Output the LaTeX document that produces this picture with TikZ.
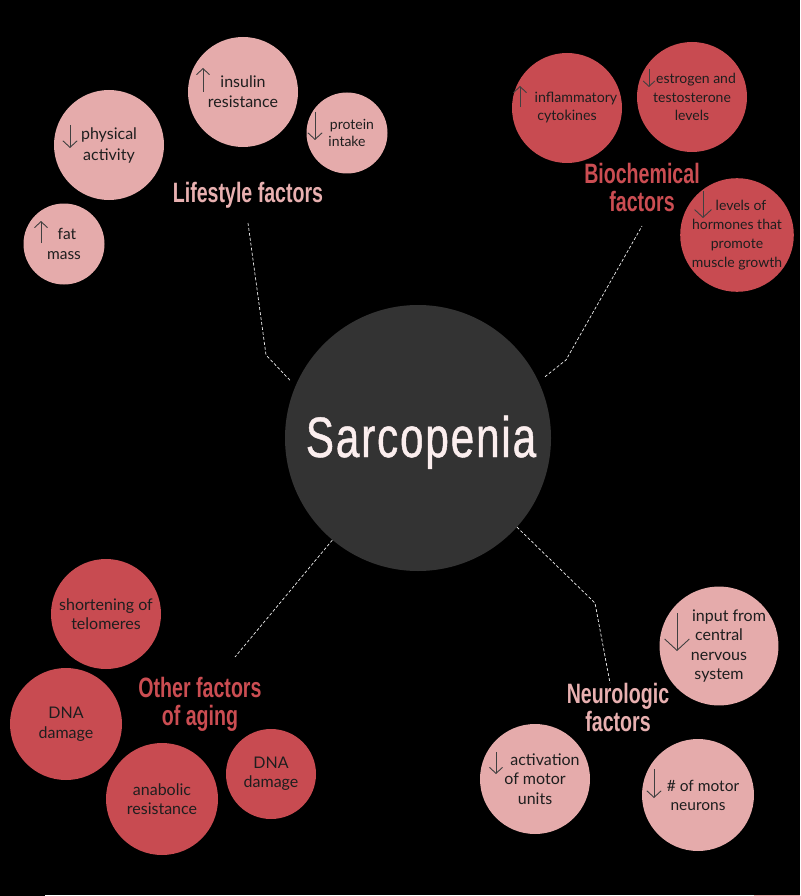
\documentclass[tikz,border=0pt]{standalone}
\usepackage{fontspec}
\setmainfont{Lato}
\newfontfamily\headfont[FakeStretch=0.7]{Liberation Sans Bold}
\newfontfamily\titlefont[FakeStretch=0.74,FakeBold=0.8,LetterSpace=3.3]{Liberation Sans}
\usetikzlibrary{arrows.meta}
\definecolor{softpink}{HTML}{E5ABAB}
\definecolor{deepred}{HTML}{C84B51}
\definecolor{pinkhead}{HTML}{E8B0B0}
\definecolor{redhead}{HTML}{CB4D52}
\definecolor{core}{HTML}{333333}
\definecolor{ink}{HTML}{1E1E1E}
\definecolor{snow}{HTML}{FBEEEE}

\begin{document}
\begin{tikzpicture}[x=1pt,y=-1pt,
		ball/.style={circle,inner sep=0pt,minimum size=#1,align=center,text=ink,font=\fontsize{16}{19.5}\selectfont},
		pinkball/.style={ball=#1,fill=softpink},
		redball/.style={ball=#1,fill=deepred},
		headline/.style={inner sep=0pt,align=center,font=\headfont\fontsize{28}{28}\selectfont},
		trend/.style={draw=ink!85!white,line width=0.9pt,-{Straight Barb[length=6pt,width=13pt,scale=#1]}},
		trend/.default=1,
		link/.style={draw=white!88!gray,line width=0.7pt,dash pattern=on 3pt off 2pt}]
			\path[fill=black,use as bounding box] (0,0) rectangle (800,896);
			\fill[white] (45,894.6) rectangle (754,896);
			\fill[softpink] (754,894.6) rectangle (800,896);
			
			\node[circle,fill=core,inner sep=0pt,minimum size=266pt] (sarc) at (418,438) {};
			\node[inner sep=0pt,anchor=base,text=snow,font=\titlefont\fontsize{57}{57}\selectfont] (title) at (421,457) {Sarcopenia};
			
			\node[pinkball=110pt,font=\fontsize{16}{20}\selectfont] (insulin) at (243,92) {insulin\\resistance};
			\node[pinkball=81pt,font=\fontsize{14}{17}\selectfont] (protein) at (347,133) {\hspace*{10pt}protein\\intake};
			\node[pinkball=110pt,font=\fontsize{16}{21}\selectfont] (physical) at (109,145) {physical\\activity};
			\node[pinkball=81pt,font=\fontsize{15.5}{20}\selectfont] (fatmass) at (64,244) {\hspace*{6pt}fat\\mass};
			\node[headline,text=pinkhead,anchor=base] (lifestyle) at (248,202) {Lifestyle factors};
			
			\draw[trend] (203,92) -- (203,68);
			\draw[trend=1.1] (315,112) -- (315,140);
			\draw[trend=1.1] (70,125) -- (70,148);
			\draw[trend] (41,243) -- (41,221);
			
			\node[redball=110pt,font=\fontsize{14.2}{18}\selectfont] (cytokine) at (567,108) {\hspace*{18pt}inflammatory\\cytokines};
			\node[redball=110pt,font=\fontsize{14}{18.5}\selectfont] (sexhorm) at (692,97) {\hspace*{8pt}estrogen and\\testosterone\\levels};
			\node[redball=112pt,font=\fontsize{14}{19}\selectfont] (growth) at (737,235) {\hspace*{8pt}levels of\\hormones that\\promote\\muscle growth};
			\node[headline,text=redhead] (biochem) at (642,187) {Biochemical\\factors};
			
			\draw[trend] (520,107) -- (520,86);
			\draw[trend=0.9] (649,69) -- (649,87);
			\draw[trend=1.3] (703,191) -- (703,218);
			
			\node[redball=110pt,font=\fontsize{16}{18.5}\selectfont] (telomere) at (106,614) {shortening of\\telomeres};
			\node[redball=112pt,font=\fontsize{16}{20}\selectfont] (dnaleft) at (66,724) {DNA\\damage};
			\node[redball=112pt] (anabolic) at (162,799) {anabolic\\resistance};
			\node[redball=90pt,font=\fontsize{16}{19}\selectfont] (dnaright) at (271,774) {DNA\\damage};
			\node[headline,text=redhead] (aging) at (200,704) {Other factors\\of aging};
			
			\node[pinkball=112pt] (cns) at (719,646) {\hspace*{20pt}input from\\central\\nervous\\system};
			\node[pinkball=110pt] (motorunit) at (535,779) {\hspace*{20pt}activation\\of motor\\units};
			\node[pinkball=112pt,font=\fontsize{15.5}{19}\selectfont] (neuron) at (698,795) {\hspace*{10pt}\# of motor\\neurons};
			\node[headline,text=pinkhead] (neuro) at (618,707) {Neurologic\\factors};
			
			\draw[trend=1.9] (677,613) -- (677,651);
			\draw[trend] (496,752) -- (496,774);
			\draw[trend=1.1] (654,769) -- (654,798);
			
			\coordinate (lsBend) at (266,355);
			\coordinate (lsEnd) at (248,223);
			\coordinate (bcBend) at (566,360);
			\coordinate (bcEnd) at (642,226);
			\coordinate (agEnd) at (235,657);
			\coordinate (nrBend) at (595,603);
			\coordinate (nrEnd) at (610,683);
			
			\draw[link,shorten <=8pt] (sarc.157) -- (lsBend) -- (lsEnd);
			\draw[link,shorten <=8pt] (sarc.25) -- (bcBend) -- (bcEnd);
			\draw[link] (sarc.230) -- (agEnd);
			\draw[link] (sarc.318) -- (nrBend) -- (nrEnd);
			
		\end{tikzpicture}
\end{document}
